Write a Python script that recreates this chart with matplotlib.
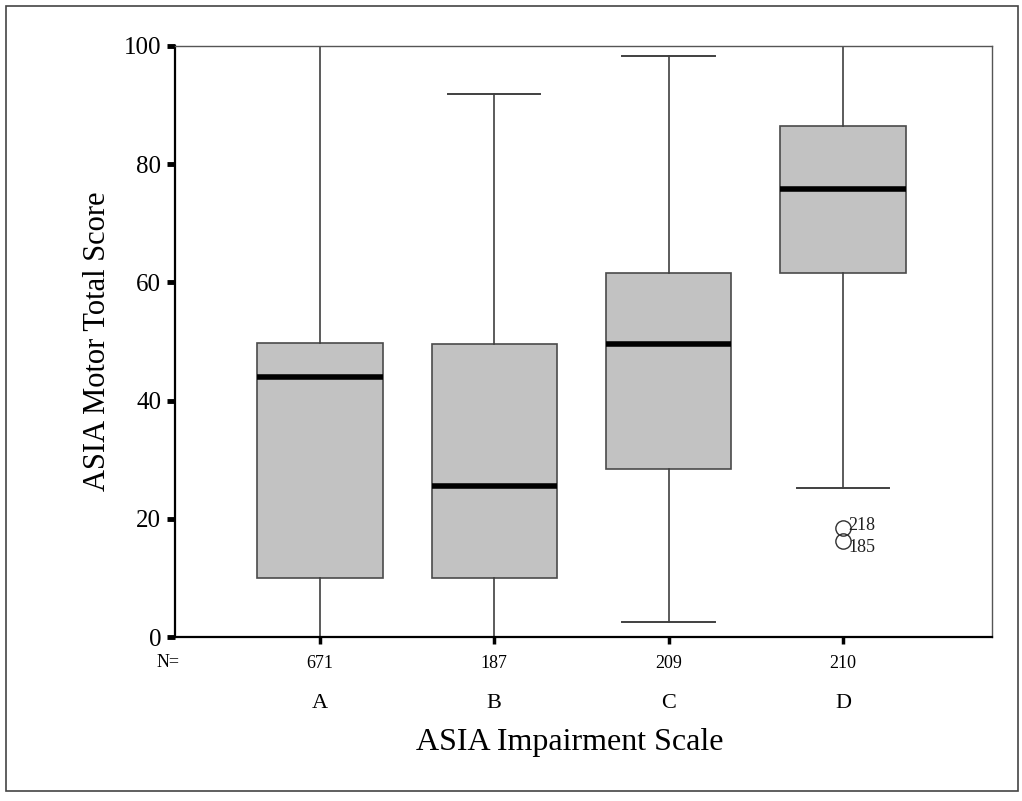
#!/usr/bin/env python3
"""
Boxplot of ASIA motor total score by ASIA impairment grade (SPSS style).
"""

import matplotlib
matplotlib.use('Agg')
import matplotlib.pyplot as plt
from matplotlib.patches import Rectangle

# data
grades = ['A', 'B', 'C', 'D']
counts = [671, 187, 209, 210]
whisker_low = [0, 0, 2.5, 25.2]
q1 = [10, 10, 28.4, 61.6]
medians = [44, 25.5, 49.5, 75.8]
q3 = [49.8, 49.5, 61.6, 86.4]
whisker_high = [100, 91.9, 98.3, 100]
outlier_vals = [[], [], [], [18.4, 16.2]]
outlier_ids = [[], [], [], ['218', '185']]

plt.rcParams['font.family'] = ['Liberation Serif', 'DejaVu Serif']

fig = plt.figure(figsize=(10.22, 8.01), dpi=100)
ax = fig.add_axes([0.1712, 0.2047, 0.7994, 0.7379])

positions = list(range(1, len(grades) + 1))
stats = []
for i, g in enumerate(grades):
    stats.append({
        'label': g,
        'whislo': whisker_low[i],
        'q1': q1[i],
        'med': medians[i],
        'q3': q3[i],
        'whishi': whisker_high[i],
        'fliers': outlier_vals[i],
    })

ax.bxp(stats, positions=positions, widths=0.72, patch_artist=True,
       boxprops=dict(facecolor='#c2c2c2', edgecolor='#4a4a4a', linewidth=1.2),
       medianprops=dict(color='black', linewidth=4, solid_capstyle='butt'),
       whiskerprops=dict(color='#404040', linewidth=1.2),
       capprops=dict(color='#404040', linewidth=1.4),
       capwidths=0.53,
       flierprops=dict(marker='o', markersize=11, markerfacecolor='none',
                       markeredgecolor='#303030', markeredgewidth=1.0))

# outlier case labels (they sit very close together, as in the original)
label_shift = [0.5, -1.0]
for i, ids in enumerate(outlier_ids):
    for k, (val, lab) in enumerate(zip(outlier_vals[i], ids)):
        ax.text(positions[i] + 0.03, val + label_shift[k], lab, fontsize=13,
                ha='left', va='center', color='#202020')

ax.set_xlim(0.168, 4.855)
ax.set_ylim(0, 100)
ax.set_yticks([0, 20, 40, 60, 80, 100])
ax.tick_params(axis='y', direction='out', length=6, width=3.5, labelsize=18, pad=4)
ax.set_xticks(positions)
ax.set_xticklabels([str(c) for c in counts])
ax.tick_params(axis='x', direction='out', length=5, width=2.5, labelsize=13, pad=8)

for side in ['left', 'bottom']:
    ax.spines[side].set_linewidth(1.6)
    ax.spines[side].set_color('black')
for side in ['top', 'right']:
    ax.spines[side].set_linewidth(1.0)
    ax.spines[side].set_color('#555555')

# "N=" and the grade letters under the axis
ax.text(-0.008, -0.043, 'N=', transform=ax.transAxes, fontsize=13,
        ha='center', va='center')
for p, g in zip(positions, grades):
    ax.text(p, -0.112, g, transform=ax.get_xaxis_transform(), fontsize=16,
            ha='center', va='center')

ax.set_ylabel('ASIA Motor Total Score', fontsize=22, labelpad=8)
fig.text(0.557, 0.073, 'ASIA Impairment Scale', fontsize=23,
         ha='center', va='center')

# outer frame round the figure
fig.patches.append(Rectangle((0.006, 0.012), 0.990, 0.981, transform=fig.transFigure,
                             fill=False, edgecolor='#444444', linewidth=1.2))

fig.savefig('out.png', dpi=100)
